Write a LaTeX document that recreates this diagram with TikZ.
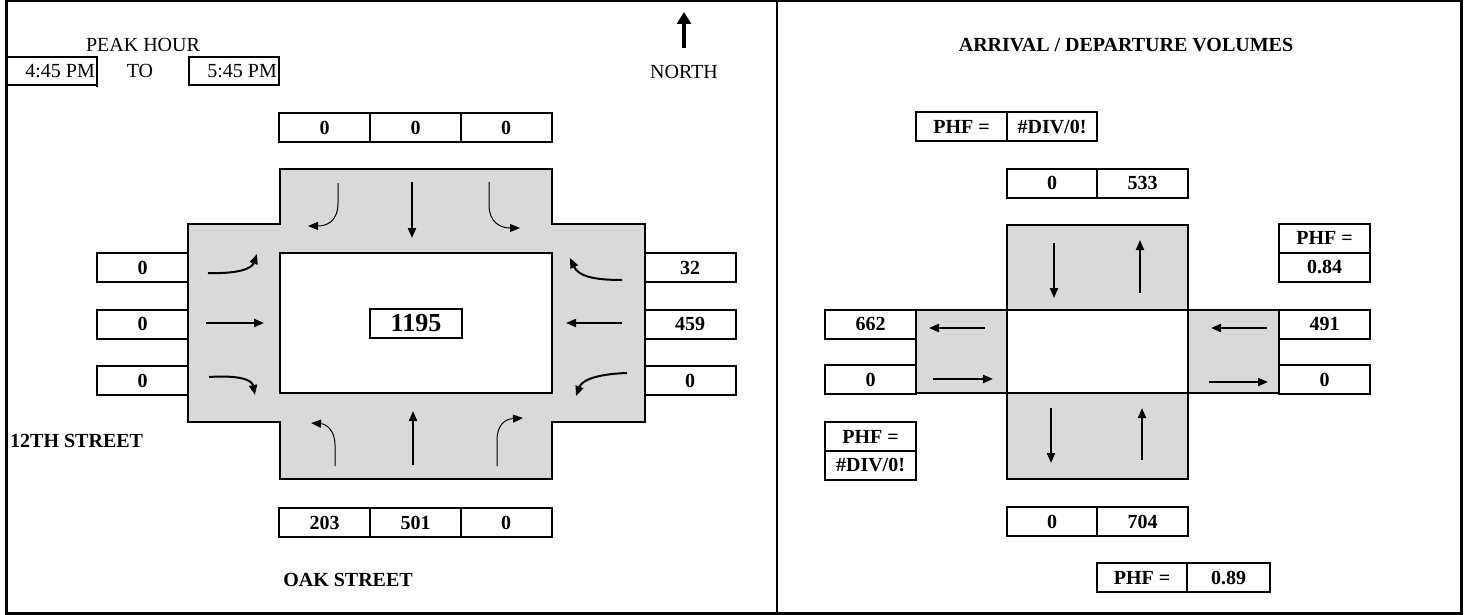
\documentclass[tikz,border=0pt]{standalone}
\usepackage{fontspec}
\setmainfont{Liberation Serif}
\usepackage{xcolor}
\usepackage{tikz}
\usetikzlibrary{arrows.meta}
\definecolor{road}{RGB}{217,217,217}
\tikzstyle{cell} = [rectangle, draw, line width=2pt, minimum width=91pt, minimum height=29pt, inner sep=0pt, font=\fontsize{20}{23}\selectfont\bfseries]
\tikzstyle{lbl} = [inner sep=0pt, font=\fontsize{20}{23}\selectfont]
\tikzstyle{blbl} = [inner sep=0pt, font=\fontsize{20}{23}\selectfont\bfseries]
\tikzstyle{mv} = [line width=1pt, -{Triangle[length=10pt,width=8pt]}]
\tikzstyle{mvs} = [line width=2pt, -{Triangle[length=10pt,width=8pt]}]
\tikzstyle{pad} = [draw, line width=2pt, fill=road]

\begin{document}
\begin{tikzpicture}[x=1pt,y=-1pt]
	\useasboundingbox (0,0) rectangle (1464,615);
	% frame
	\draw[line width=3pt] (6,1) rectangle (1461,613);
	\draw[line width=2.5pt] (777,1) -- (777,613);
	% peak hour
	\node[lbl] (ph) at (143,45) {PEAK HOUR};
	\draw[line width=2pt] (7,57) -- (97,57) -- (97,87);
	\draw[line width=2pt] (7,85) -- (97,85);
	\node[lbl, anchor=east] (t1) at (95,71) {4:45 PM};
	\node[lbl] (to) at (140,71) {TO};
	\draw[line width=2pt] (189,57) rectangle (279,85);
	\node[lbl, anchor=east] (t2) at (277,71) {5:45 PM};
	% north
	\coordinate (nb) at (684,48);
	\coordinate (nt) at (684,12);
	\draw[line width=4pt, -{Triangle[length=12pt,width=14pt]}] (nb) -- (nt);
	\node[lbl] (north) at (684,72) {NORTH};
	% intersection
	\draw[pad] (280,169) -- (552,169) -- (552,224) -- (645,224) -- (645,422) -- (552,422) -- (552,479) -- (280,479) -- (280,422) -- (188,422) -- (188,224) -- (280,224) -- cycle;
	\draw[line width=2pt, fill=white] (280,253) rectangle (552,393);
	\node[draw, line width=2.4pt, minimum width=92pt, minimum height=29pt, inner sep=0pt, font=\fontsize{26}{29}\selectfont\bfseries] (tot) at (416,323.5) {1195};
	% counts
	\node[cell] (sl) at (324.5,127.5) {0};
	\node[cell] (st) at (415.5,127.5) {0};
	\node[cell] (sr) at (506,127.5) {0};
	\node[cell] (nl) at (324.5,522.5) {203};
	\node[cell] (nt2) at (415.5,522.5) {501};
	\node[cell] (nr) at (506,522.5) {0};
	\node[cell] (el) at (142.5,267.5) {0};
	\node[cell] (et) at (142.5,324) {0};
	\node[cell] (er) at (142.5,380.5) {0};
	\node[cell] (wr) at (690,267.5) {32};
	\node[cell] (wt) at (690,324) {459};
	\node[cell] (wl) at (690,380.5) {0};
	% movements
	\draw[mv] (338,183) -- (338,203) .. controls (338,222) and (326,226) .. (308,226);
	\draw[mvs] (412,182) -- (412,238);
	\draw[mv] (489,182) -- (489,205) .. controls (489,222) and (500,228) .. (520,228);
	\draw[mvs] (208,273) .. controls (240,274) and (252,268) .. (257,254);
	\draw[mvs] (206,323) -- (264,323);
	\draw[mvs] (209,377) .. controls (240,375) and (252,380) .. (255,395);
	\draw[mvs] (622,280) .. controls (590,280) and (578,275) .. (570,258);
	\draw[mvs] (622,323) -- (566,323);
	\draw[mvs] (627,373) .. controls (597,374) and (582,380) .. (576,396);
	\draw[mv] (335,466) -- (335,445) .. controls (335,430) and (326,424) .. (311,423);
	\draw[mvs] (413,465) -- (413,411);
	\draw[mv] (497,466) -- (497,440) .. controls (497,425) and (505,419) .. (523,418);
	\node[blbl, anchor=west] (ews) at (10,441) {12TH STREET};
	\node[blbl] (nss) at (348,580) {OAK STREET};
	% arrival / departure
	\node[blbl] (ad) at (1126,45) {ARRIVAL / DEPARTURE VOLUMES};
	\node[cell] (phfn) at (961.5,127) {PHF =};
	\node[cell, minimum width=90pt] (phfnv) at (1052,127) {\#DIV/0!};
	\node[cell, minimum width=90pt] (sa) at (1052,183) {0};
	\node[cell] (sd) at (1142.5,183) {533};
	\draw[pad] (1007,225) rectangle (1188,310);
	\draw[pad] (916,310) rectangle (1007,393);
	\draw[pad] (1188,310) rectangle (1279,393);
	\draw[pad] (1007,393) rectangle (1188,479);
	\draw[line width=2pt, fill=white] (1007,310) rectangle (1188,393);
	\draw[mvs] (1054,243) -- (1054,298);
	\draw[mvs] (1140,293) -- (1140,240);
	\draw[mvs] (985,328) -- (929,328);
	\draw[mvs] (933,379) -- (993,379);
	\draw[mvs] (1267,328) -- (1211,328);
	\draw[mvs] (1209,382) -- (1268,382);
	\draw[mvs] (1051,408) -- (1051,463);
	\draw[mvs] (1142,460) -- (1142,408);
	\node[cell] (wd) at (870.5,324) {662};
	\node[cell] (wa) at (870.5,379.5) {0};
	\node[cell] (ed) at (1324.5,324) {491};
	\node[cell] (ea) at (1324.5,379.5) {0};
	\node[cell] (phfe) at (1324.5,238) {PHF =};
	\node[cell] (phfev) at (1324.5,267) {0.84};
	\node[cell] (phfw) at (870.5,436.5) {PHF =};
	\node[cell] (phfwv) at (870.5,465) {\#DIV/0!};
	\node[cell, minimum width=90pt] (na) at (1052,521.5) {0};
	\node[cell] (nd) at (1142.5,521.5) {704};
	\node[cell, minimum width=90pt] (phfs) at (1142,577.5) {PHF =};
	\node[cell, minimum width=83pt] (phfsv) at (1228.5,577.5) {0.89};
\end{tikzpicture}
\end{document}
